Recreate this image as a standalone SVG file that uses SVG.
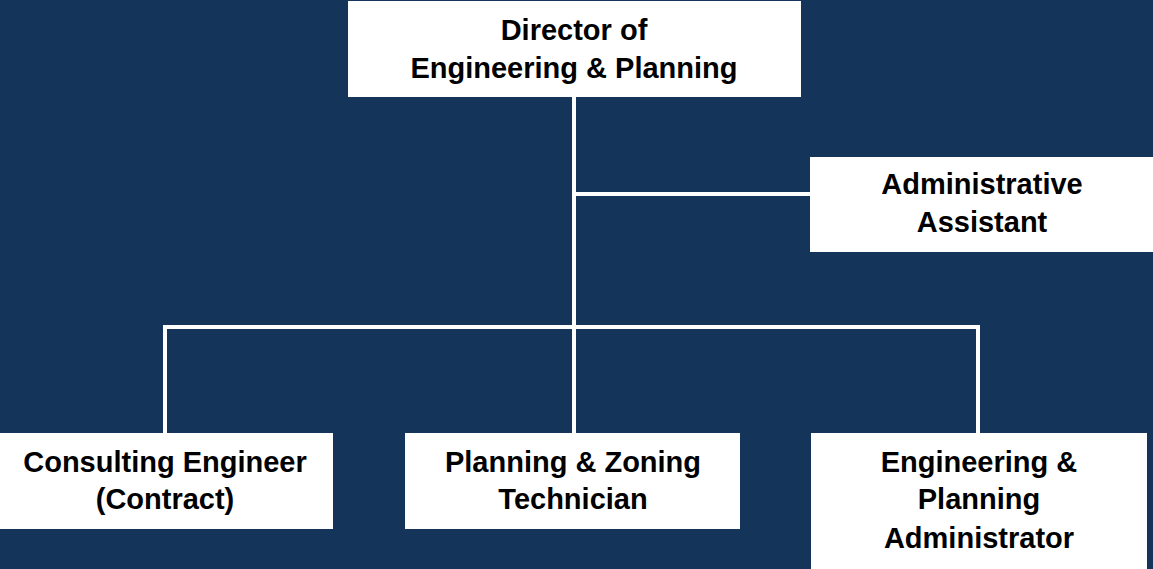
<svg xmlns="http://www.w3.org/2000/svg" width="1153" height="569" viewBox="0 0 1153 569">
<style>
.box{fill:#ffffff;}
.lbl{font-family:"Liberation Sans",Arial,sans-serif;font-weight:bold;font-size:29px;fill:#000000;text-anchor:middle;}
.conn{stroke:#ffffff;stroke-width:4;fill:none;}
</style>
<rect x="0" y="0" width="1153" height="569" fill="#153459"/>
<g id="connectors">
<line class="conn" x1="574" y1="97" x2="574" y2="433"/>
<line class="conn" x1="574" y1="194" x2="810" y2="194"/>
<polyline class="conn" points="165,433 165,327 978,327 978,433"/>
</g>
<g id="director">
<rect class="box" x="348" y="1" width="453" height="96"/>
<text class="lbl" x="574" y="40">Director of</text>
<text class="lbl" x="574" y="78">Engineering &amp; Planning</text>
</g>
<g id="admin-assistant">
<rect class="box" x="810" y="157" width="343" height="95"/>
<text class="lbl" x="982" y="194">Administrative</text>
<text class="lbl" x="982" y="232">Assistant</text>
</g>
<g id="consulting-engineer">
<rect class="box" x="0" y="433" width="333" height="96"/>
<text class="lbl" x="165" y="472">Consulting Engineer</text>
<text class="lbl" x="165" y="509">(Contract)</text>
</g>
<g id="planning-zoning">
<rect class="box" x="405" y="433" width="335" height="96"/>
<text class="lbl" x="573" y="472">Planning &amp; Zoning</text>
<text class="lbl" x="573" y="509">Technician</text>
</g>
<g id="eng-planning-admin">
<rect class="box" x="811" y="433" width="336" height="136"/>
<text class="lbl" x="979" y="472">Engineering &amp;</text>
<text class="lbl" x="979" y="509">Planning</text>
<text class="lbl" x="979" y="548">Administrator</text>
</g>
</svg>
